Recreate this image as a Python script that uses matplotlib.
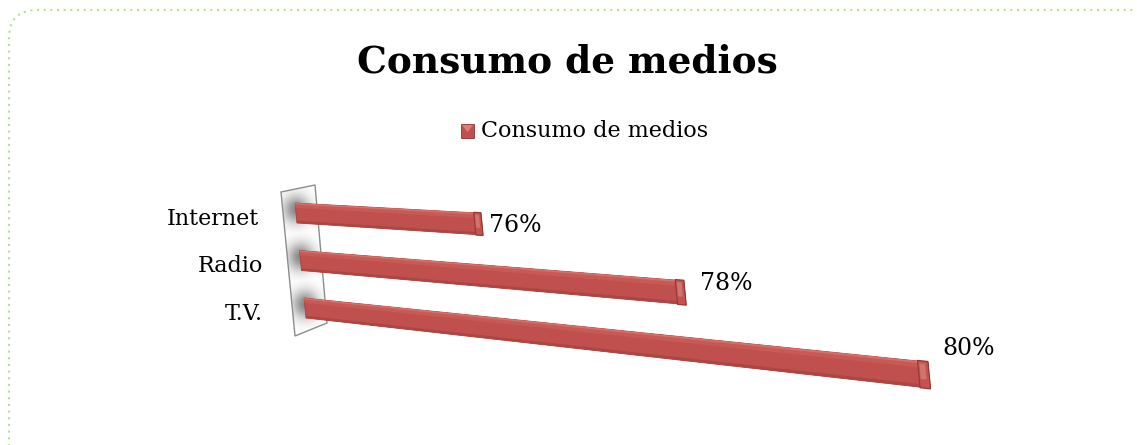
import numpy as np
import matplotlib
matplotlib.use("Agg")
import matplotlib.pyplot as plt
import matplotlib.transforms as mtransforms
from matplotlib.path import Path
from matplotlib.patches import Polygon, FancyBboxPatch, Rectangle

# ---------------- data ----------------
categories = ["T.V.", "Radio", "Internet"]
values = [0.80, 0.78, 0.76]
value_labels = ["80%", "78%", "76%"]
series_name = "Consumo de medios"
title = "Consumo de medios"

# ---------------- layout / style ----------------
W, H = 1137, 445
AX_MIN = 0.7375            # value axis minimum (hidden axis)
BAR_H = 0.42               # bar thickness in category units
RED = "#C0504D"
SERIF = ["DejaVu Serif"]

# perspective projection of the (value, category) plane to pixels
VP = np.array([-1665.0, 96.0])       # vanishing point
P0 = np.array([305.0, 308.0])        # first category at axis minimum
PV = np.array([-4.5, -47.5])         # step per category at axis minimum
K = -3.85                            # depth factor


class Persp(mtransforms.Transform):
    input_dims = 2
    output_dims = 2
    is_separable = False
    has_inverse = False

    def transform_non_affine(self, values):
        values = np.asarray(values, dtype=float).reshape(-1, 2)
        u = values[:, 0]
        v = values[:, 1]
        P = P0[None, :] + v[:, None] * PV[None, :]
        w = 1.0 + K * (u - AX_MIN)
        return VP[None, :] + (P - VP[None, :]) / w[:, None]

    def transform_path_non_affine(self, path):
        p = path.interpolated(20)
        return Path(self.transform_non_affine(p.vertices), p.codes)


fig = plt.figure(figsize=(W / 100, H / 100), dpi=100)
ax = fig.add_axes([0, 0, 1, 1])
ax.set_autoscale_on(False)
ax.set_xlim(0, W)
ax.set_ylim(H, 0)
ax.axis("off")

PP = Persp()
T = PP + ax.transData


def proj(u, v):
    return PP.transform_non_affine(np.array([[u, v]]))[0]


# chart border (dotted, rounded)
border = FancyBboxPatch((9, 10), W + 30, H + 30,
                        boxstyle="round,pad=0,rounding_size=28",
                        fill=False, ec="#B9DF93", lw=1.5, ls=(0, (1, 2.2)))
ax.add_patch(border)

WALL = [(281, 192), (315, 185), (327, 323), (295, 336)]
ax.add_patch(Polygon(WALL, closed=True, fc="white", ec="none", zorder=1))

pos = np.arange(len(categories))
vals = np.array(values)

# soft blurred shadows of the bars on the wall
x0, x1, y0, y1 = 278, 330, 182, 340
gx, gy = np.meshgrid(np.arange(x0, x1, 0.5), np.arange(y0, y1, 0.5))
alpha = np.zeros_like(gx)
for p in pos:
    cx, cy = proj(AX_MIN, p)
    alpha = np.maximum(alpha, 0.72 * np.exp(-(((gx - cx) / 13.0) ** 2
                                               + ((gy - (cy - 4)) / 14.0) ** 2)))
rgba = np.zeros(gx.shape + (4,))
rgba[..., :3] = 0.36
rgba[..., 3] = alpha
im = ax.imshow(rgba, extent=(x0, x1, y1, y0), origin="upper",
               interpolation="bilinear", zorder=1.5, aspect="auto")
im.set_clip_path(Polygon(WALL, closed=True, transform=ax.transData))
ax.set_xlim(0, W)
ax.set_ylim(H, 0)
ax.add_patch(Polygon(WALL, closed=True, fill=False, ec="#8C8C8C", lw=1.0, zorder=1.6))

# bars (front face + bevels + end cap), all in data coords through the projection
ax.barh(pos, vals - AX_MIN, left=AX_MIN, height=BAR_H, color=RED,
        transform=T, zorder=3, edgecolor="#A8423F", linewidth=0.6)
ax.barh(pos + BAR_H / 2 - 0.05, vals - AX_MIN, left=AX_MIN, height=0.10,
        color="#C85A56", transform=T, zorder=3.1, linewidth=0)
ax.barh(pos + BAR_H / 2 - 0.015, vals - AX_MIN, left=AX_MIN, height=0.03,
        color="#D2726E", transform=T, zorder=3.2, linewidth=0)
ax.barh(pos - BAR_H / 2 + 0.025, vals - AX_MIN, left=AX_MIN, height=0.05,
        color="#AE4542", transform=T, zorder=3.1, linewidth=0)
CAP = 0.0008
ax.barh(pos, np.full_like(vals, CAP), left=vals - CAP, height=BAR_H + 0.02,
        color="#C4524F", edgecolor="#943733", linewidth=0.8, transform=T, zorder=3.5)
ax.barh(pos + 0.05, np.full_like(vals, CAP * 0.55), left=vals - CAP * 0.85,
        height=BAR_H * 0.6, color="#D07470", linewidth=0, transform=T, zorder=3.6)

# value labels
label_dx = [13, 15, 7]
label_dy = [-27, -9, 1]
for p, v, lab, dx, dy in zip(pos, vals, value_labels, label_dx, label_dy):
    x, y = proj(v, p)
    ax.text(x + dx, y + dy, lab, ha="left", va="center",
            fontsize=17, family=SERIF, color="#000000", zorder=5)

# category labels
cat_dx = [-42, -37, -37]
for p, c, dx in zip(pos, categories, cat_dx):
    x, y = proj(AX_MIN, p)
    ax.text(x + dx, y + 6, c, ha="right", va="center",
            fontsize=16, family=SERIF, color="#000000", zorder=5)

# title
ax.text(567, 62, title, ha="center", va="center", fontsize=27,
        fontweight="bold", family=SERIF, color="#000000")

# legend
ax.add_patch(Rectangle((461, 124), 13, 14, fc=RED, ec="#8E3431", lw=0.6))
ax.add_patch(Polygon([(462, 125), (473, 125), (467.5, 132)], closed=True,
                     fc="#D9807C", ec="none"))
ax.text(481, 131, series_name, ha="left", va="center", fontsize=16,
        family=SERIF, color="#000000")

fig.savefig("out.png", dpi=100, facecolor="white")
